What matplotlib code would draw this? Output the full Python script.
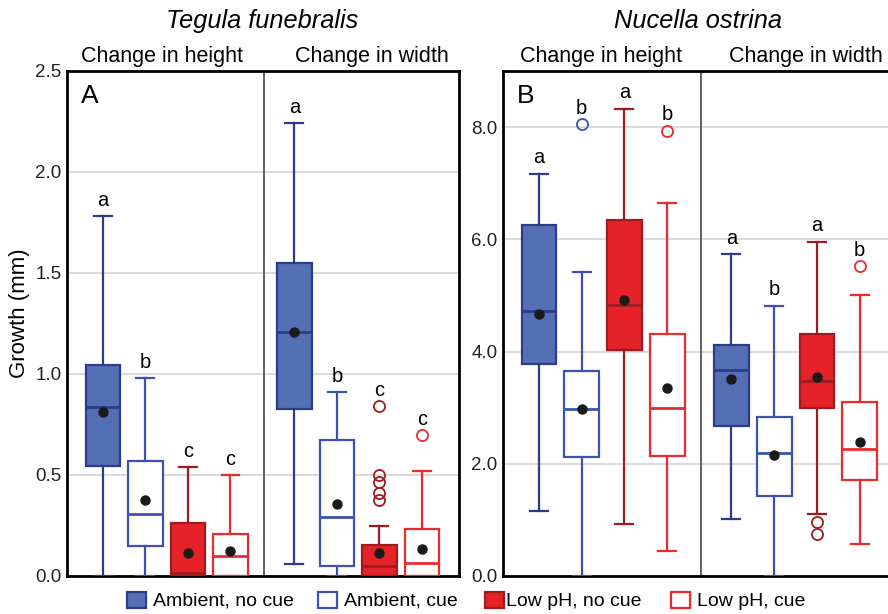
import numpy as np
import matplotlib.pyplot as plt
from matplotlib.patches import Rectangle

plt.rcParams['font.family'] = ['Liberation Sans', 'DejaVu Sans']

# treatment groups, same order in every block of four boxes
groups = ["Ambient, no cue", "Ambient, cue", "Low pH, no cue", "Low pH, cue"]

# Tegula funebralis: [whislo, q1, med, q3, whishi, mean]
teg_height = [[0.0, 0.545, 0.837, 1.046, 1.78, 0.813],
              [0.0, 0.147, 0.308, 0.569, 0.98, 0.376],
              [0.0, 0.0, 0.016, 0.264, 0.541, 0.115],
              [0.0, 0.0, 0.099, 0.208, 0.50, 0.125]]
teg_width = [[0.059, 0.825, 1.209, 1.551, 2.241, 1.21],
             [0.0, 0.0495, 0.292, 0.673, 0.909, 0.358],
             [0.0, 0.0, 0.051, 0.153, 0.2475, 0.114],
             [0.0, 0.0, 0.064, 0.234, 0.52, 0.134]]
teg_height_out = [[], [], [], []]
teg_width_out = [[], [], [0.84, 0.50, 0.467, 0.409, 0.376], [0.70]]
teg_height_lab = ["a", "b", "c", "c"]
teg_width_lab = ["a", "b", "c", "c"]

# Nucella ostrina
nuc_height = [[1.16, 3.77, 4.72, 6.25, 7.16, 4.67],
              [0.0, 2.12, 2.98, 3.66, 5.41, 2.98],
              [0.925, 4.03, 4.83, 6.35, 8.33, 4.92],
              [0.45, 2.14, 3.00, 4.32, 6.64, 3.35]]
nuc_width = [[1.02, 2.67, 3.67, 4.12, 5.73, 3.51],
             [0.0, 1.43, 2.20, 2.84, 4.82, 2.15],
             [1.10, 2.99, 3.47, 4.32, 5.95, 3.54],
             [0.575, 1.71, 2.27, 3.10, 5.00, 2.38]]
nuc_height_out = [[], [8.05], [], [7.93]]
nuc_width_out = [[], [], [0.96, 0.74], [5.52]]
nuc_height_lab = ["a", "b", "a", "b"]
nuc_width_lab = ["a", "b", "a", "b"]

# face colour and edge colour per group
face = ["#5470b4", "white", "#e42228", "white"]
edge = ["#2e3a8c", "#3d52b0", "#9e1c20", "#eb2a2e"]

pos_h = [0, 1, 2, 3]
pos_w = [4.5, 5.5, 6.5, 7.5]


def draw_block(ax, vals, outs, labs, positions, yoff):
  for i, (v, o, p) in enumerate(zip(vals, outs, positions)):
    st = dict(whislo=v[0], q1=v[1], med=v[2], q3=v[3], whishi=v[4], mean=v[5], fliers=o)
    ax.bxp([st], positions=[p], widths=0.81, patch_artist=True, showmeans=True,
           boxprops=dict(facecolor=face[i], edgecolor=edge[i], linewidth=1.6),
           medianprops=dict(color=edge[i], linewidth=2.0),
           whiskerprops=dict(color=edge[i], linewidth=1.6),
           capprops=dict(color=edge[i], linewidth=1.6),
           capwidths=0.42,
           flierprops=dict(marker='o', markerfacecolor='none', markeredgecolor=edge[i],
                           markersize=8, markeredgewidth=1.3),
           meanprops=dict(marker='o', markerfacecolor='#1a1a1a', markeredgecolor='#1a1a1a',
                          markersize=6.5), zorder=3)
    top = max([v[4]] + o)
    ax.text(p, top + yoff, labs[i], ha='center', va='bottom', fontsize=14.5, zorder=4)


def style_axes(ax, ymax, step, hx, wx):
  ax.set_xlim(-0.84, 8.37)
  ax.set_ylim(0, ymax)
  ax.set_yticks(np.arange(0, ymax + 1e-9, step))
  ax.yaxis.set_major_formatter(plt.FormatStrFormatter('%.1f'))
  ax.set_xticks([])
  ax.tick_params(axis='y', length=0, labelsize=13.5, pad=4, colors='#222222')
  ax.grid(axis='y', color='#d4d4d4', linewidth=1.2, zorder=0)
  ax.set_axisbelow(True)
  for s in ax.spines.values():
    s.set_linewidth(2.0)
  ax.axvline(3.78, color='#444444', linewidth=1.2, zorder=1)
  ax.text(hx, 1.008, "Change in height", transform=ax.get_xaxis_transform(),
          ha='center', va='bottom', fontsize=15.5)
  ax.text(wx, 1.008, "Change in width", transform=ax.get_xaxis_transform(),
          ha='center', va='bottom', fontsize=15.5)


fig = plt.figure(figsize=(8.88, 6.14), dpi=100)
axA = fig.add_axes([0.0755, 0.0619, 0.4414, 0.8225])
axB = fig.add_axes([0.5664, 0.0619, 0.4437, 0.8225])

draw_block(axA, teg_height, teg_height_out, teg_height_lab, pos_h, 0.03)
draw_block(axA, teg_width, teg_width_out, teg_width_lab, pos_w, 0.03)
style_axes(axA, 2.5, 0.5, 1.38, 6.32)
axA.text(0.035, 0.975, "A", transform=axA.transAxes, ha='left', va='top', fontsize=19)

draw_block(axB, nuc_height, nuc_height_out, nuc_height_lab, pos_h, 0.12)
draw_block(axB, nuc_width, nuc_width_out, nuc_width_lab, pos_w, 0.12)
style_axes(axB, 9.0, 2.0, 1.44, 6.23)
axB.set_yticks([0, 2, 4, 6, 8])
axB.text(0.035, 0.975, "B", transform=axB.transAxes, ha='left', va='top', fontsize=19)

# species names and shared y label
fig.text(262 / 888, 1 - 21 / 614, "Tegula funebralis", ha='center', va='center',
         fontsize=18.3, style='italic')
fig.text(698 / 888, 1 - 21 / 614, "Nucella ostrina", ha='center', va='center',
         fontsize=18.3, style='italic')
fig.text(19 / 888, 1 - 313 / 614, "Growth (mm)", rotation=90, ha='center', va='center',
         fontsize=16)

# legend along the bottom edge
leg_x = [127, 318, 485, 671]
txt_x = [153, 344, 506, 697]
for i, g in enumerate(groups):
  fig.patches.append(Rectangle((leg_x[i] / 888, (614 - 608) / 614), 19 / 888, 16 / 614,
                               transform=fig.transFigure, facecolor=face[i],
                               edgecolor=edge[i], linewidth=1.6))
  fig.text(txt_x[i] / 888, (614 - 601) / 614, g, ha='left', va='center', fontsize=14)

fig.savefig("out.png", dpi=100)
